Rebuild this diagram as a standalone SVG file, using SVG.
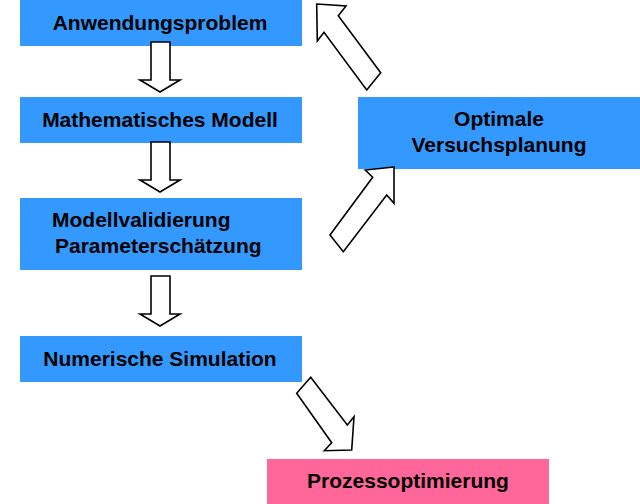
<svg xmlns="http://www.w3.org/2000/svg" width="640" height="504" viewBox="0 0 640 504">
<style>
.b{fill:#3399FF}
.p{fill:#FF6699}
.t{font-family:"Liberation Sans",Arial,sans-serif;font-weight:bold;font-size:21px;fill:#000}
.a{fill:#fff;stroke:#000;stroke-width:1.6;stroke-linejoin:miter}
</style>
<rect width="640" height="504" fill="#fff"/>
<g id="n1"><rect class="b" x="20" y="0" width="282" height="46"/><text class="t" x="160" y="29.5" text-anchor="middle">Anwendungsproblem</text></g>
<g id="n2"><rect class="b" x="20" y="97" width="282" height="46"/><text class="t" x="160" y="126.5" text-anchor="middle">Mathematisches Modell</text></g>
<g id="n3"><rect class="b" x="20" y="198" width="282" height="72"/><text class="t" x="52" y="227">Modellvalidierung</text><text class="t" x="55" y="253">Parameterschätzung</text></g>
<g id="n4"><rect class="b" x="20" y="336" width="282" height="46"/><text class="t" x="160" y="365.5" text-anchor="middle">Numerische Simulation</text></g>
<g id="n5"><rect class="b" x="358" y="97" width="282" height="72"/><text class="t" x="499" y="125.5" text-anchor="middle">Optimale</text><text class="t" x="499" y="152" text-anchor="middle">Versuchsplanung</text></g>
<g id="n6"><rect class="p" x="267" y="459" width="282" height="45"/><text class="t" x="408" y="488" text-anchor="middle">Prozessoptimierung</text></g>
<g id="connectors">
<polygon class="a" points="151,42 170,42 170,80 180,80 160,92 140,80 151,80"/>
<polygon class="a" points="151,142 170,142 170,180 180,180 160,192 140,180 151,180"/>
<polygon class="a" points="151,276 170,276 170,314 180,314 160,326 140,314 151,314"/>
<polygon class="a" points="316.7,4 346,6 338.3,15.7 380.7,72.7 366.7,90 324,32.3 317.3,41"/>
<polygon class="a" points="394,167 365.3,170 372.7,177.3 330,235 343.3,251.7 386.7,195 394,203.3"/>
<polygon class="a" points="310.7,377.3 296.7,393.3 331.7,442.7 324.3,450.7 351.7,450 354,416.7 347.3,425"/>
</g>
</svg>
